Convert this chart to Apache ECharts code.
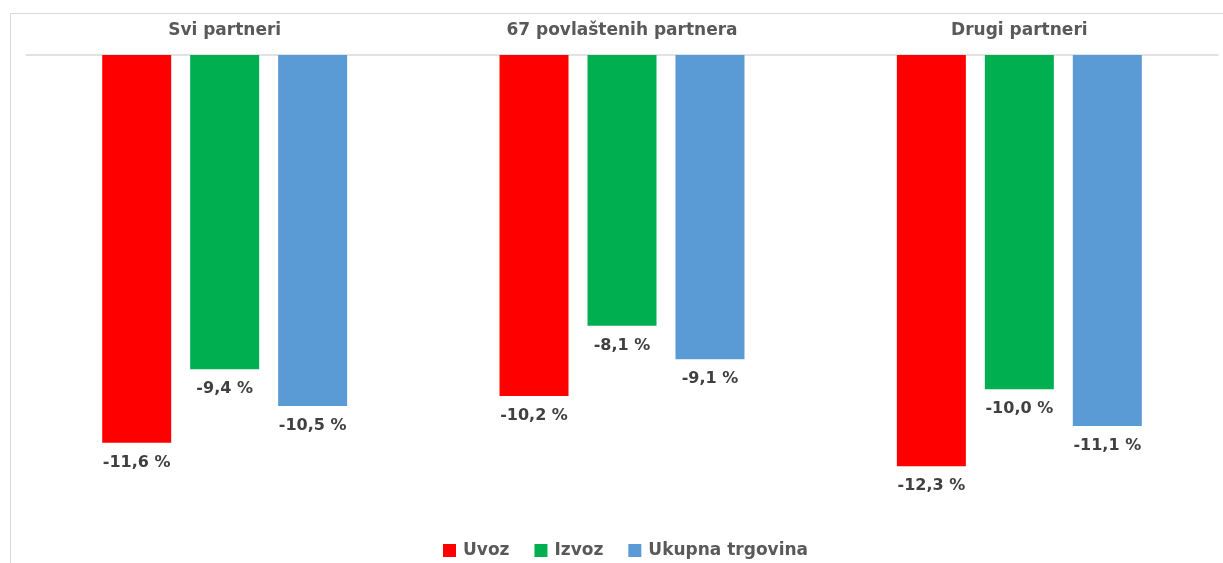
<!DOCTYPE html>
<html>
<head>
<meta charset="utf-8">
<script src="https://cdn.jsdelivr.net/npm/echarts@6/dist/echarts.min.js"></script>
<style>
  html, body { margin: 0; padding: 0; background: #fff; }
  #chart { width: 1223px; height: 563px; }
</style>
</head>
<body>
<div id="chart"></div>
<script>
const categories = ["Svi partneri", "67 povlaštenih partnera", "Drugi partneri"];
const uvoz = [-11.6, -10.2, -12.3];
const izvoz = [-9.4, -8.1, -10.0];
const ukupno = [-10.5, -9.1, -11.1];

let chart = echarts.init(document.getElementById("chart"));

// values shown as "-11,6 %"
function fmt(p) {
  return p.value.toFixed(1).replace(".", ",") + " %";
}

function bar(name, data, color) {
  return {
    name: name,
    type: "bar",
    data: data,
    barWidth: 69,
    barGap: "27.5%",
    itemStyle: { color: color },
    label: {
      show: true,
      position: "bottom",
      distance: 12,
      formatter: fmt,
      fontFamily: "DejaVu Sans",
      fontWeight: "bold",
      fontSize: 16,
      color: "#404040",
    },
  };
}

let option = {
  animation: false,
  graphic: [
    {
      type: "rect",
      shape: { x: 10.5, y: 13.5, width: 1240, height: 600 },
      style: { fill: "none", stroke: "#d9d9d9", lineWidth: 1 },
      silent: true,
    },
  ],
  legend: {
    bottom: -1,
    left: 438,
    itemWidth: 13,
    itemHeight: 13,
    itemGap: 25,
    icon: "rect",
    textStyle: {
      fontFamily: "DejaVu Sans",
      fontWeight: "bold",
      fontSize: 17,
      color: "#595959",
      padding: [0, 0, 0, 2],
    },
    data: ["Uvoz", "Izvoz", "Ukupna trgovina"],
  },
  grid: { left: 26, width: 1192, top: 55, height: 468 },
  xAxis: {
    type: "category",
    position: "top",
    data: categories,
    axisLine: { lineStyle: { color: "#d9d9d9", width: 1.5 } },
    axisTick: { show: false },
    axisLabel: {
      margin: 16,
      fontFamily: "DejaVu Sans",
      fontWeight: "bold",
      fontSize: 17,
      color: "#595959",
    },
  },
  yAxis: {
    type: "value",
    min: -14,
    max: 0,
    show: false,
    splitLine: { show: false },
  },
  series: [
    bar("Uvoz", uvoz, "#ff0000"),
    bar("Izvoz", izvoz, "#00b050"),
    bar("Ukupna trgovina", ukupno, "#5b9bd5"),
  ],
};

chart.setOption(option);
</script>
</body>
</html>
